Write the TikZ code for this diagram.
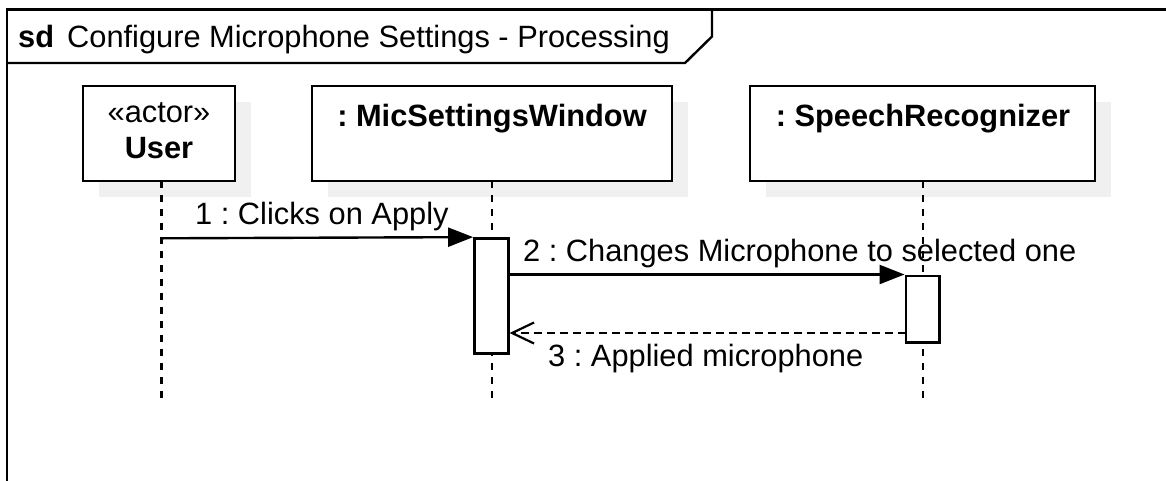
\documentclass[tikz,border=0pt]{standalone}
\usepackage{fontspec}
\setmainfont{Liberation Sans}
\usetikzlibrary{arrows.meta}
\frenchspacing
\begin{document}
\begin{tikzpicture}[x=1pt,y=-1pt,
  every node/.style={font=\fontsize{30.8pt}{36pt}\selectfont, inner sep=0pt},
  objbox/.style={draw, line width=2.4pt, fill=white, minimum width=#1, minimum height=95pt},
  shadowbox/.style={fill=black!6, draw=none, minimum width=#1, minimum height=95pt},
  actbox/.style={draw, line width=2.4pt, fill=white, minimum width=34pt},
  lifeline/.style={line width=2.4pt, dash pattern=on 7pt off 7pt},
  syncmsg/.style={line width=2.4pt, -{Triangle[length=25pt,width=19pt]}},
  replymsg/.style={line width=2.2pt, dash pattern=on 8pt off 5pt, -{Straight Barb[length=22pt,width=21pt,line width=2.2pt]}},
  framestyle/.style={line width=2.4pt}
]
\useasboundingbox (0,0) rectangle (1166,480);
% frame
\draw[framestyle] (1175,9.5) -- (7,9.5) -- (7,490);
\draw[framestyle] (7,63) -- (685,63) -- (712,36.5) -- (712,9.5);
\node[anchor=base west] (title) at (18,47) {\textbf{sd}\hspace{13pt}Configure Microphone Settings - Processing};

% shadows
\node[shadowbox=152pt] (userS) at (175,149.5) {};
\node[shadowbox=360pt] (micS) at (508,149.5) {};
\node[shadowbox=345pt] (srS) at (938.5,149.5) {};

% lifelines
\coordinate (uTop) at (161.5,181);
\coordinate (uEnd) at (161.5,405);
\coordinate (mTop) at (492,181);
\coordinate (mEnd) at (492,405);
\coordinate (sTop) at (923,181);
\coordinate (sEnd) at (923,405);
\draw[lifeline] (uTop) -- (uEnd);
\draw[lifeline] (mTop) -- (mEnd);
\draw[lifeline] (sTop) -- (sEnd);

% object boxes
\node[objbox=152pt] (user) at (159,133.5) {};
\node[anchor=base] (userSt) at (159,122) {«actor»};
\node[anchor=base] (userName) at (159,158) {\textbf{User}};
\node[objbox=360pt] (mic) at (492,133.5) {};
\node[anchor=base] (micName) at (492,126) {\textbf{: MicSettingsWindow}};
\node[objbox=345pt] (sr) at (922.5,133.5) {};
\node[anchor=base] (srName) at (923,126) {\textbf{: SpeechRecognizer}};

% activations
\node[actbox, minimum height=115pt] (act1) at (491.3,295.8) {};
\node[actbox, minimum height=66.6pt, minimum width=33.6pt] (act2) at (922.5,309) {};

% messages
\coordinate (m1s) at (161.5,238.3);
\draw[syncmsg] (m1s) -- (act1.north west);
\draw[syncmsg] (act2.north west -| act1.east) -- (act2.north west);
\coordinate (m3s) at (906,333);
\draw[replymsg] (m3s) -- (m3s -| act1.east);

% labels
\node[anchor=base west] (l1) at (195,224) {1 : Clicks on Apply};
\node[anchor=base west] (l2) at (523,261.5) {2 : Changes Microphone to selected one};
\node[anchor=base west] (l3) at (548,366.5) {3 : Applied microphone};
\end{tikzpicture}
\end{document}
